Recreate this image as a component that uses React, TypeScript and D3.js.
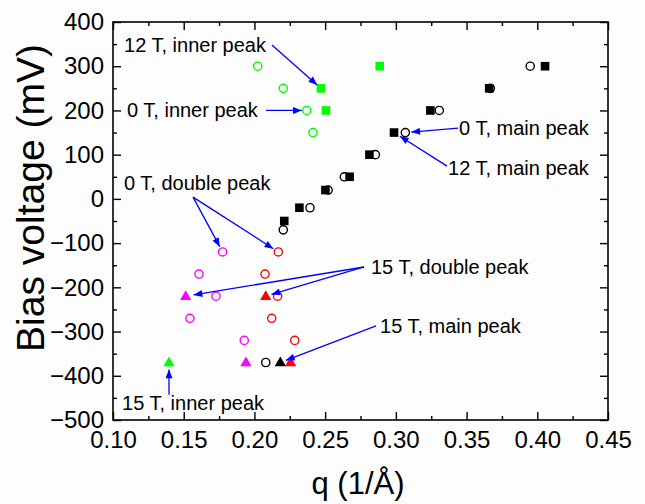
import React, { useRef, useEffect } from 'react';
import * as d3 from 'd3';

// 0 T, main peak (black open circles)
const q0Main = [0.208, 0.2204, 0.2393, 0.2521, 0.2636, 0.2855, 0.3067, 0.3307, 0.3668, 0.395];
const v0Main = [-370, -70, -20, 20, 50, 100, 150, 200, 250, 300];
// 12 T, main peak (black squares)
const q12Main = [0.2211, 0.2318, 0.2502, 0.2673, 0.2813, 0.2987, 0.3244, 0.366, 0.4055];
const v12Main = [-50, -20, 20, 50, 100, 150, 200, 250, 300];
// 0 T, inner peak (green open circles)
const q0Inner = [0.2023, 0.2204, 0.237, 0.2414];
const v0Inner = [300, 250, 200, 150];
// 12 T, inner peak (green squares)
const q12Inner = [0.247, 0.2506, 0.2886];
const v12Inner = [250, 200, 300];
// 0 T, double peak (magenta + red open circles)
const q0DoubleA = [0.1775, 0.1608, 0.1728, 0.1544, 0.1928];
const q0DoubleB = [0.2169, 0.2075, 0.2164, 0.2122, 0.2285];
const v0Double = [-120, -170, -220, -270, -320];
// 15 T, double peak (magenta + red triangles)
const q15DoubleA = [0.1514, 0.194];
const q15DoubleB = [0.208, 0.2256];
const v15Double = [-220, -370];
// 15 T, main peak / inner peak (triangles)
const q15Main = [0.2183];
const v15Main = [-370];
const q15Inner = [0.1396];
const v15Inner = [-370];

const xTicks = [0.1, 0.15, 0.2, 0.25, 0.3, 0.35, 0.4, 0.45];
const xMinor = [0.125, 0.175, 0.225, 0.275, 0.325, 0.375, 0.425];
const yTicks = [-500, -400, -300, -200, -100, 0, 100, 200, 300, 400];
const yMinor = [-450, -350, -250, -150, -50, 50, 150, 250, 350];

// annotation labels: text, anchor point (q, mV) of the text's left/middle
const noteText = ['12 T, inner peak', '0 T, inner peak', '0 T, double peak', '0 T, main peak',
  '12 T, main peak', '15 T, double peak', '15 T, main peak', '15 T, inner peak'];
const noteQ = [0.1078, 0.1099, 0.1078, 0.3447, 0.3369, 0.2824, 0.2888, 0.1064];
const noteV = [348, 200, 36, 160, 70, -154, -287, -462];

// arrows: start (q, mV) -> target marker (q, mV), gap before the marker in px
const arrowFromQ = [0.2124, 0.2082, 0.1566, 0.1566, 0.3440, 0.3362, 0.2775, 0.2775, 0.286, 0.1396];
const arrowFromV = [348, 200, 4, 4, 160, 74, -154, -154, -287, -443];
const arrowToQ = [0.247, 0.237, 0.1775, 0.2169, 0.3067, 0.2987, 0.1514, 0.208, 0.2183, 0.1396];
const arrowToV = [250, 200, -120, -120, 150, 150, -220, -220, -370, -370];
const arrowGap = [5, 5, 6, 6, 6, 7, 8, 6, 6, 7];

const FONT = '"Liberation Sans", Arial, sans-serif';

function App() {
  const svgRef = useRef(null);

  useEffect(() => {
    const width = 645, height = 504;
    const margin = { top: 22, right: 37, bottom: 84, left: 113 };

    const svg = d3.select(svgRef.current);
    svg.selectAll('*').remove();

    const x = d3.scaleLinear().domain([0.1, 0.45]).range([margin.left, width - margin.right]);
    const y = d3.scaleLinear().domain([-500, 400]).range([height - margin.bottom, margin.top]);

    svg.append('rect').attr('width', width).attr('height', height).attr('fill', '#fdfdfd');

    const styleAxis = (g) => {
      g.select('.domain').remove();
      g.selectAll('line').attr('stroke', '#000').attr('stroke-width', 1.4);
      g.selectAll('text').attr('font-size', 24).attr('font-family', FONT).attr('fill', '#000');
    };

    const bottom = height - margin.bottom;
    const right = width - margin.right;

    svg.append('g').attr('transform', `translate(0,${bottom})`)
      .call(d3.axisBottom(x).tickValues(xTicks).tickSizeInner(-8).tickSizeOuter(0).tickPadding(11).tickFormat(d3.format('.2f')))
      .call(styleAxis);
    svg.append('g').attr('transform', `translate(0,${bottom})`)
      .call(d3.axisBottom(x).tickValues(xMinor).tickSizeInner(-4).tickSizeOuter(0).tickFormat(() => ''))
      .call(styleAxis);
    svg.append('g').attr('transform', `translate(0,${margin.top})`)
      .call(d3.axisTop(x).tickValues(xTicks).tickSizeInner(-8).tickSizeOuter(0).tickFormat(() => ''))
      .call(styleAxis);
    svg.append('g').attr('transform', `translate(0,${margin.top})`)
      .call(d3.axisTop(x).tickValues(xMinor).tickSizeInner(-4).tickSizeOuter(0).tickFormat(() => ''))
      .call(styleAxis);

    svg.append('g').attr('transform', `translate(${margin.left},0)`)
      .call(d3.axisLeft(y).tickValues(yTicks).tickSizeInner(-8).tickSizeOuter(0).tickPadding(9).tickFormat(d3.format('d')))
      .call(styleAxis);
    svg.append('g').attr('transform', `translate(${margin.left},0)`)
      .call(d3.axisLeft(y).tickValues(yMinor).tickSizeInner(-4).tickSizeOuter(0).tickFormat(() => ''))
      .call(styleAxis);
    svg.append('g').attr('transform', `translate(${right},0)`)
      .call(d3.axisRight(y).tickValues(yTicks).tickSizeInner(-8).tickSizeOuter(0).tickFormat(() => ''))
      .call(styleAxis);
    svg.append('g').attr('transform', `translate(${right},0)`)
      .call(d3.axisRight(y).tickValues(yMinor).tickSizeInner(-4).tickSizeOuter(0).tickFormat(() => ''))
      .call(styleAxis);

    svg.append('rect')
      .attr('x', margin.left).attr('y', margin.top)
      .attr('width', right - margin.left).attr('height', bottom - margin.top)
      .attr('fill', 'none').attr('stroke', '#000').attr('stroke-width', 1.6);

    // axis titles
    svg.append('text')
      .attr('transform', `translate(44,198) rotate(-90)`)
      .attr('text-anchor', 'middle')
      .attr('font-family', FONT).attr('font-size', 39)
      .text('Bias voltage (mV)');
    svg.append('text')
      .attr('x', 358).attr('y', 494)
      .attr('text-anchor', 'middle')
      .attr('font-family', FONT).attr('font-size', 31)
      .text('q (1/Å)');

    // markers
    const pts = (qs, vs) => qs.map((q, i) => [q, vs[i]]);
    const marks = svg.append('g');

    const circles = (qs, vs, color) => marks.append('g').selectAll('circle')
      .data(pts(qs, vs)).join('circle')
      .attr('cx', d => x(d[0])).attr('cy', d => y(d[1])).attr('r', 4.1)
      .attr('fill', 'white').attr('stroke', color).attr('stroke-width', 1.4);

    const squares = (qs, vs, color) => marks.append('g').selectAll('rect')
      .data(pts(qs, vs)).join('rect')
      .attr('x', d => x(d[0]) - 4.3).attr('y', d => y(d[1]) - 4.3)
      .attr('width', 8.6).attr('height', 8.6).attr('fill', color);

    const tri = d3.symbol(d3.symbolTriangle).size(55);
    const triangles = (qs, vs, color) => marks.append('g').selectAll('path')
      .data(pts(qs, vs)).join('path')
      .attr('transform', d => `translate(${x(d[0])},${y(d[1]) + 0.5})`)
      .attr('d', tri).attr('fill', color);

    circles(q0Main, v0Main, '#000');
    squares(q12Main, v12Main, '#000');
    circles(q0Inner, v0Inner, '#00ff00');
    squares(q12Inner, v12Inner, '#00ff00');
    circles(q0DoubleA, v0Double, '#ff00ff');
    circles(q0DoubleB, v0Double, '#ff0000');
    triangles(q15DoubleA, v15Double, '#ff00ff');
    triangles(q15DoubleB, v15Double, '#ff0000');
    triangles(q15Main, v15Main, '#000');
    triangles(q15Inner, v15Inner, '#00ff00');

    // arrows
    svg.append('defs').append('marker')
      .attr('id', 'head').attr('viewBox', '0 0 10 8')
      .attr('refX', 10).attr('refY', 4)
      .attr('markerUnits', 'userSpaceOnUse')
      .attr('markerWidth', 10).attr('markerHeight', 7)
      .attr('orient', 'auto')
      .append('path').attr('d', 'M0,0L10,4L0,8Z').attr('fill', '#0000ff');

    const arrows = arrowFromQ.map((q, i) => {
      const x1 = x(q), y1 = y(arrowFromV[i]);
      const tx = x(arrowToQ[i]), ty = y(arrowToV[i]);
      const len = Math.hypot(tx - x1, ty - y1);
      const k = (len - arrowGap[i]) / len;
      return [x1, y1, x1 + (tx - x1) * k, y1 + (ty - y1) * k];
    });
    svg.append('g').selectAll('line').data(arrows).join('line')
      .attr('x1', d => d[0]).attr('y1', d => d[1])
      .attr('x2', d => d[2]).attr('y2', d => d[3])
      .attr('stroke', '#0000ff').attr('stroke-width', 1.3)
      .attr('marker-end', 'url(#head)');

    // annotation labels
    svg.append('g').selectAll('text').data(noteText).join('text')
      .attr('x', (d, i) => x(noteQ[i])).attr('y', (d, i) => y(noteV[i]))
      .attr('dy', '0.35em')
      .attr('font-family', FONT).attr('font-size', 20)
      .text(d => d);
  }, []);

  return (
    <svg
      ref={svgRef}
      width={645}
      height={504}
      style={{ position: 'absolute', left: 0, top: 0, display: 'block' }}
    />
  );
}

export default App;
